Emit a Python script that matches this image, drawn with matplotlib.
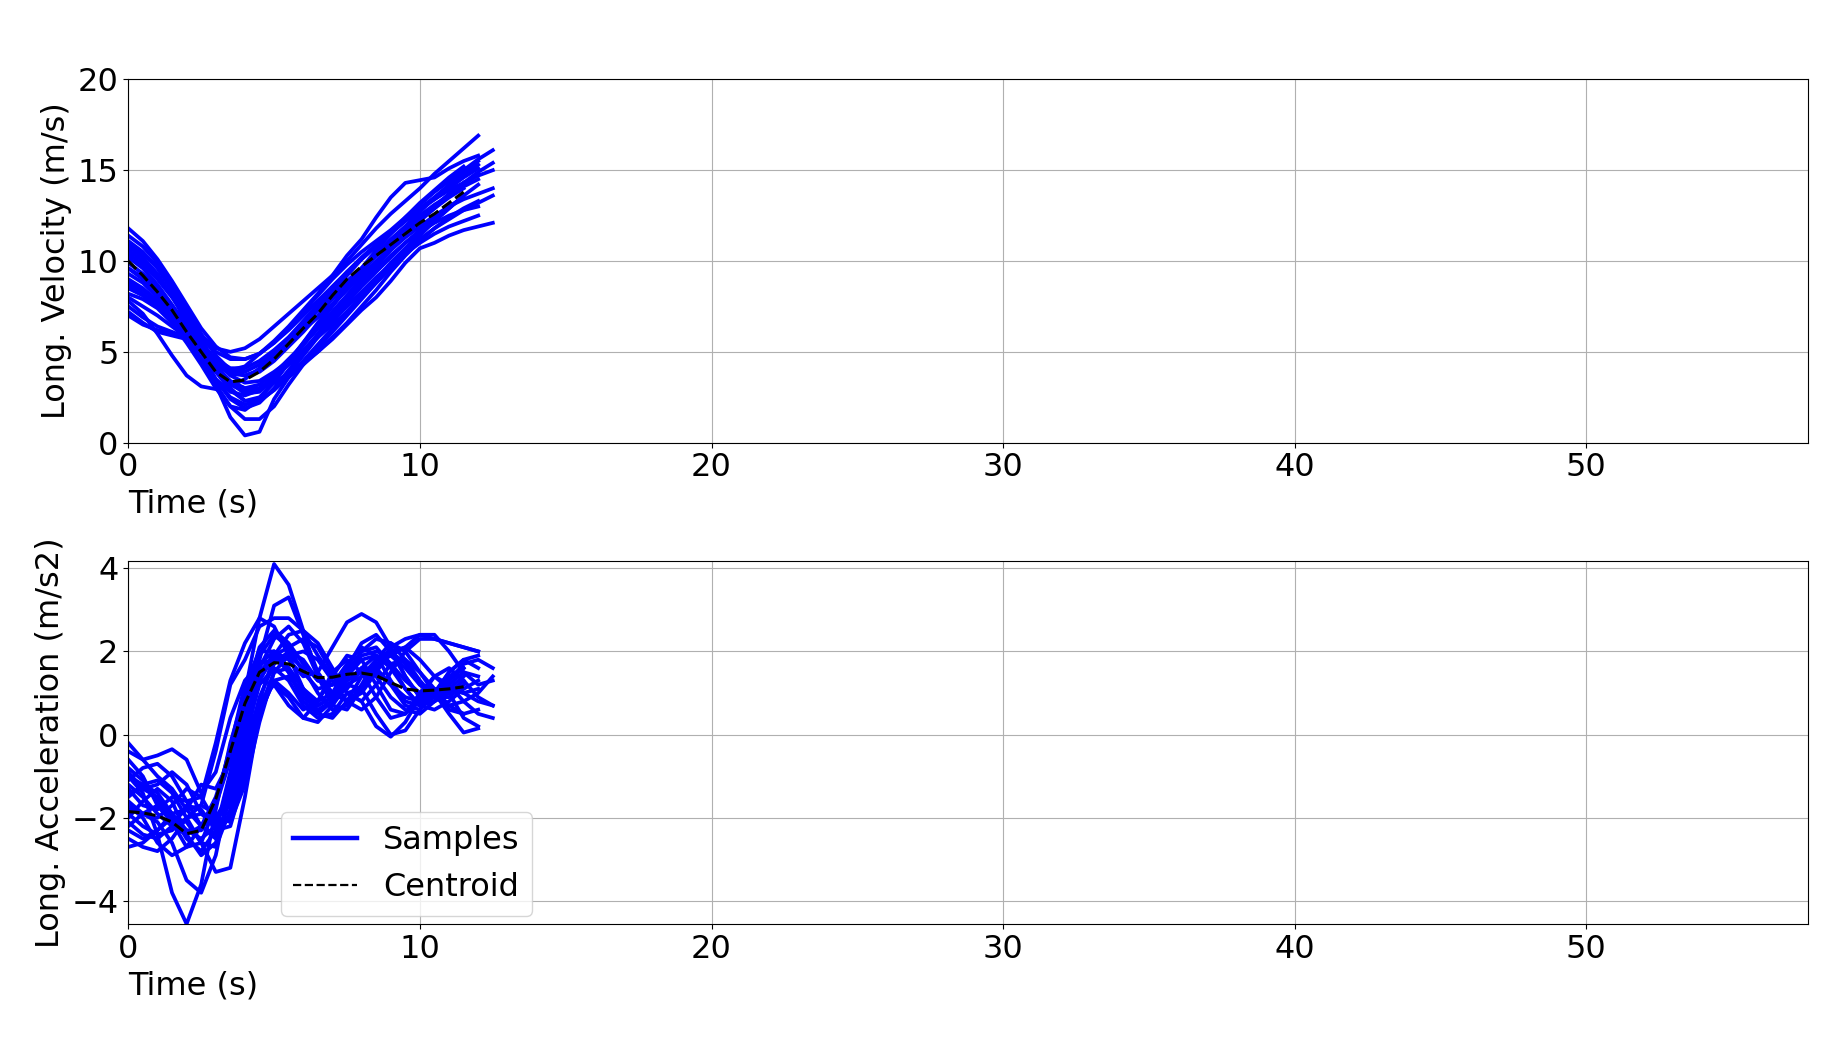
"""Longitudinal velocity / acceleration samples with their centroid."""
import matplotlib

matplotlib.use("Agg")
import matplotlib.pyplot as plt
from matplotlib.lines import Line2D

plt.rcParams.update({
    "font.size": 23,
    "axes.grid": True,
})

# time grid of the read-off points (s)
TIME = [0.0, 0.5, 1.0, 1.5, 2.0, 2.5, 3.0, 3.5, 4.0, 4.5, 5.0, 5.5, 6.0,
        6.5, 7.0, 7.5, 8.0, 8.5, 9.0, 9.5, 10.0, 10.5, 11.0, 11.5, 12.0, 12.5]

# ---- longitudinal velocity (m/s) ----
VEL_CENTROID = [10.0, 9.2, 8.3, 7.3, 6.1, 5.0, 3.9, 3.35, 3.45, 3.9, 4.6, 5.45,
                6.3, 7.1, 8.1, 9.0, 9.7, 10.3, 10.9, 11.5, 12.1, 12.6, 13.2, 13.8]

VEL_01 = [11.8, 11.1, 10.1, 8.9, 7.6, 6.3, 5.3, 4.7, 4.6, 4.9, 5.5, 6.2, 7.0,
          7.8, 8.6, 9.4, 10.1, 10.8, 11.5, 12.2, 12.9, 13.5, 14.1, 14.7, 15.3]
VEL_02 = [9.0, 8.5, 7.8, 6.9, 5.8, 4.6, 3.2, 1.4, 0.4, 0.6, 2.4, 3.6, 4.5,
          5.4, 6.3, 7.2, 8.1, 9.0, 9.9, 10.7, 11.5, 12.2, 12.9, 13.6]
VEL_03 = [8.5, 8.1, 7.5, 6.7, 5.7, 4.5, 3.2, 2.0, 1.3, 1.3, 2.0, 3.2, 4.3,
          5.2, 6.1, 7.0, 7.9, 8.8, 9.7, 10.6, 11.4, 12.2, 12.9, 13.6, 14.2]
VEL_04 = [7.8, 7.1, 6.0, 4.8, 3.7, 3.1, 2.95, 3.1, 3.5, 4.1, 4.8, 5.5, 6.2,
          6.9, 7.6, 8.4, 9.2, 10.0, 10.8, 11.6, 12.3, 13.0, 13.7, 14.3, 14.9, 15.4]
VEL_05 = [10.6, 10.0, 9.2, 8.1, 6.9, 5.9, 5.2, 5.0, 5.2, 5.7, 6.4, 7.1, 7.8,
          8.5, 9.2, 10.0, 10.9, 11.8, 12.6, 13.3, 14.0, 14.8, 15.5, 16.2, 16.9]
VEL_06 = [9.6, 9.0, 8.2, 7.2, 6.1, 5.0, 4.3, 4.0, 4.2, 4.9, 5.6, 6.4, 7.3,
          8.2, 9.2, 10.3, 11.2, 12.4, 13.5, 14.3, 14.45, 14.6, 15.1, 15.5, 15.8]
VEL_07 = [7.2, 6.6, 6.1, 5.9, 5.7, 5.1, 4.2, 3.4, 3.0, 3.0, 3.3, 3.8, 4.4,
          5.0, 5.7, 6.5, 7.3, 8.0, 8.9, 9.9, 10.7, 11.0, 11.4, 11.7, 11.9, 12.1]
VEL_08 = [10.4, 9.8, 9.0, 8.0, 6.8, 5.6, 4.5, 3.9, 3.9, 4.3, 5.0, 5.8, 6.7,
          7.6, 8.5, 9.4, 10.2, 10.9, 11.6, 12.2, 12.8, 13.4, 14.0, 14.6, 15.1]
VEL_09 = [7.5, 6.9, 6.4, 6.1, 5.8, 5.0, 3.9, 2.9, 2.3, 2.3, 2.9, 3.8, 4.8,
          5.8, 6.8, 7.7, 8.6, 9.4, 10.2, 11.0, 11.7, 12.4, 13.0, 13.5]
VEL_10 = [11.1, 10.5, 9.6, 8.4, 7.0, 5.6, 4.3, 3.3, 2.7, 2.8, 3.5, 4.5, 5.5,
          6.5, 7.5, 8.5, 9.4, 10.3, 11.1, 11.9, 12.7, 13.5, 14.2, 14.9, 15.5]
VEL_11 = [8.8, 8.4, 7.8, 7.0, 6.0, 5.0, 4.0, 3.2, 2.8, 3.0, 3.6, 4.3, 5.1,
          5.9, 6.7, 7.5, 8.3, 9.1, 9.8, 10.5, 11.2, 11.8, 12.3, 12.8, 13.2, 13.6]
VEL_12 = [10.9, 10.4, 9.7, 8.7, 7.4, 6.0, 4.8, 4.0, 3.7, 3.9, 4.5, 5.3, 6.1,
          7.0, 7.9, 8.8, 9.6, 10.4, 11.2, 11.9, 12.5, 13.1, 13.6, 14.1, 14.5]
VEL_13 = [8.2, 7.9, 7.4, 6.6, 5.5, 4.3, 3.0, 2.0, 1.8, 2.4, 3.4, 4.4, 5.4,
          6.3, 7.2, 8.1, 9.0, 9.9, 10.8, 11.6, 12.3, 12.9, 13.5, 14.0]
VEL_14 = [9.9, 9.3, 8.5, 7.5, 6.4, 5.4, 4.6, 4.1, 4.1, 4.5, 5.1, 5.8, 6.6,
          7.4, 8.3, 9.2, 10.1, 10.9, 11.6, 12.3, 12.9, 13.4, 13.9, 14.3, 14.7, 15.0]
VEL_15 = [7.0, 6.5, 6.2, 6.0, 5.9, 5.4, 4.5, 3.7, 3.3, 3.4, 3.9, 4.5, 5.1,
          5.8, 6.5, 7.2, 8.0, 8.8, 9.6, 10.4, 11.0, 11.5, 11.9, 12.2, 12.5]
VEL_16 = [11.4, 10.8, 9.9, 8.7, 7.2, 5.6, 4.1, 3.0, 2.3, 2.5, 3.3, 4.4, 5.5,
          6.6, 7.6, 8.6, 9.6, 10.6, 11.5, 12.4, 13.2, 13.9, 14.6, 15.2]
VEL_17 = [9.3, 8.8, 8.0, 7.0, 5.8, 4.6, 3.5, 2.8, 2.6, 2.9, 3.6, 4.5, 5.4,
          6.3, 7.2, 8.1, 9.0, 9.8, 10.6, 11.3, 11.9, 12.5, 13.0, 13.4, 13.7, 14.0]
VEL_18 = [10.2, 9.6, 8.7, 7.6, 6.4, 5.2, 4.1, 3.3, 3.0, 3.2, 3.8, 4.6, 5.4,
          6.3, 7.1, 7.9, 8.7, 9.5, 10.3, 11.0, 11.6, 12.1, 12.5, 12.8, 13.0]
VEL_19 = [8.0, 7.5, 7.0, 6.4, 5.8, 5.1, 4.3, 3.8, 3.7, 4.0, 4.7, 5.5, 6.4,
          7.3, 8.1, 8.9, 9.6, 10.3, 11.0, 11.7, 12.4, 13.0, 13.6, 14.2, 14.8]
VEL_20 = [10.8, 10.2, 9.3, 8.1, 6.6, 5.0, 3.5, 2.4, 1.9, 2.2, 3.0, 4.0, 5.0,
          6.0, 7.0, 7.9, 8.8, 9.7, 10.6, 11.4, 12.2, 12.9, 13.6, 14.3]
VEL_21 = [9.6, 9.1, 8.4, 7.5, 6.6, 5.7, 5.0, 4.6, 4.6, 4.9, 5.5, 6.3, 7.2,
          8.1, 9.0, 9.8, 10.5, 11.1, 11.7, 12.4, 13.1, 13.8, 14.4, 15.0, 15.6, 16.1]
VEL_22 = [8.7, 8.2, 7.6, 6.8, 5.8, 4.6, 3.4, 2.5, 2.1, 2.3, 2.9, 3.6, 4.3,
          5.0, 5.8, 6.6, 7.5, 8.4, 9.4, 10.3, 11.1, 11.8, 12.4, 12.9, 13.3]

VEL_SAMPLES = [VEL_01, VEL_02, VEL_03, VEL_04, VEL_05, VEL_06, VEL_07, VEL_08,
               VEL_09, VEL_10, VEL_11, VEL_12, VEL_13, VEL_14, VEL_15, VEL_16,
               VEL_17, VEL_18, VEL_19, VEL_20, VEL_21, VEL_22]

# ---- longitudinal acceleration (m/s2) ----
ACC_CENTROID = [-1.85, -1.88, -1.95, -2.1, -2.38, -2.3, -1.55, -0.4, 0.75, 1.5, 1.73, 1.7,
                1.52, 1.37, 1.38, 1.45, 1.48, 1.42, 1.25, 1.1, 1.05, 1.07, 1.1, 1.15]

ACC_01 = [-1.2, -1.5, -1.9, -2.2, -2.4, -2.2, -1.5, -0.4, 1.0, 2.8, 4.1, 3.6, 2.5,
          1.4, 0.9, 1.1, 1.6, 1.9, 1.7, 1.3, 1.0, 1.0, 1.3, 1.6]
ACC_02 = [-0.8, -1.1, -1.6, -2.0, -2.3, -2.5, -2.2, -1.3, 0.2, 1.8, 3.1, 3.3, 2.4,
          1.5, 1.0, 0.8, 1.0, 1.5, 2.0, 2.1, 1.8, 1.4, 1.1, 1.0, 1.1]
ACC_03 = [-1.0, -1.4, -2.4, -3.8, -4.55, -3.6, -1.8, -0.2, 1.0, 1.7, 2.0, 1.6, 1.1,
          0.8, 1.0, 1.6, 2.2, 2.4, 2.0, 1.4, 0.9, 0.8, 1.0, 1.3]
ACC_04 = [-1.8, -1.9, -2.1, -2.6, -3.5, -3.8, -2.9, -1.2, 0.6, 1.9, 2.4, 2.1, 1.5,
          1.1, 1.2, 1.7, 2.1, 1.9, 1.3, 0.8, 0.7, 1.0, 1.5, 1.8, 1.9]
ACC_05 = [-2.3, -2.5, -2.3, -2.0, -2.1, -2.6, -3.3, -3.2, -1.5, 0.5, 1.3, 1.0, 0.6,
          0.8, 1.4, 1.9, 1.8, 1.2, 0.6, 0.5, 0.9, 1.4, 1.6, 1.3, 0.9, 0.7]
ACC_06 = [-0.4, -0.6, -1.0, -1.3, -1.8, -1.7, -0.4, 1.2, 1.8, 2.6, 2.8, 2.8, 2.5,
          1.9, 1.4, 1.2, 1.4, 1.8, 2.0, 1.7, 1.2, 0.9, 0.9, 1.2]
ACC_07 = [-0.2, -0.6, -0.5, -0.35, -0.6, -1.4, -0.9, 0.4, 1.3, 1.7, 1.8, 1.9, 2.0,
          1.8, 1.3, 0.8, 0.6, 0.9, 1.5, 2.0, 2.3, 2.3, 2.2, 2.1, 2.0]
ACC_08 = [-2.7, -2.6, -2.3, -1.9, -1.8, -2.2, -2.4, -1.6, -0.2, 0.8, 1.2, 0.9, 0.4,
          0.3, 0.7, 1.2, 1.1, 0.5, 0.0, 0.1, 0.6, 1.1, 1.0, 0.4, 0.2]
ACC_09 = [-1.5, -1.2, -1.1, -1.4, -2.0, -2.6, -2.7, -1.8, -0.2, 1.3, 2.0, 1.8, 1.4,
          1.5, 2.1, 2.7, 2.9, 2.7, 2.1, 1.4, 0.9, 0.9, 1.3, 1.7, 1.8, 1.6]
ACC_10 = [-1.9, -2.2, -2.4, -2.3, -2.0, -1.9, -2.0, -1.4, 0.0, 1.2, 1.6, 1.3, 0.7,
          0.4, 0.5, 1.0, 0.8, 0.2, -0.05, 0.3, 0.9, 1.0, 0.5, 0.05, 0.15]
ACC_11 = [-1.3, -1.7, -1.8, -1.5, -1.6, -2.2, -2.5, -1.9, -0.5, 0.9, 1.7, 2.0, 1.8,
          1.3, 1.2, 1.5, 1.9, 2.0, 1.9, 2.1, 2.4, 2.4, 2.0, 1.5, 1.2, 1.3]
ACC_12 = [-0.6, -1.0, -1.7, -2.1, -1.8, -1.2, -1.3, -0.6, 0.7, 1.6, 2.3, 2.6, 2.2,
          1.4, 0.7, 0.6, 1.1, 1.7, 1.9, 1.6, 1.2, 1.0, 1.1, 1.4]
ACC_13 = [-2.0, -1.6, -1.3, -1.6, -2.4, -2.9, -2.6, -1.5, 0.1, 1.3, 1.9, 1.5, 0.8,
          0.5, 0.8, 1.3, 1.6, 1.4, 0.9, 0.6, 0.5, 0.8, 1.1, 1.0, 0.8, 0.7]
ACC_14 = [-1.6, -1.9, -2.0, -1.7, -1.3, -1.5, -2.1, -2.0, -0.7, 0.8, 1.9, 2.4, 2.5,
          2.2, 1.6, 1.0, 0.8, 1.2, 1.7, 1.8, 1.5, 1.1, 0.7, 0.5, 0.6]
ACC_15 = [-2.5, -2.7, -2.8, -2.5, -2.0, -1.7, -1.9, -1.9, -0.9, 0.6, 1.5, 1.6, 1.1,
          0.5, 0.4, 0.8, 1.4, 1.6, 1.2, 0.7, 0.6, 1.0, 1.5, 1.8, 1.6]
ACC_16 = [-1.0, -1.2, -1.4, -1.9, -2.5, -2.8, -2.3, -0.9, 0.9, 2.1, 2.5, 2.2, 1.7,
          1.3, 1.2, 1.3, 1.5, 1.5, 1.2, 0.9, 0.8, 1.0, 1.4, 1.6]
ACC_17 = [-1.4, -1.3, -1.5, -1.9, -2.3, -2.3, -1.6, -0.3, 1.2, 2.0, 2.0, 1.5, 0.9,
          0.6, 0.8, 1.4, 2.0, 2.3, 2.2, 1.8, 1.3, 0.9, 0.7, 0.8, 1.0, 1.4]
ACC_18 = [-2.1, -2.4, -2.5, -2.2, -1.7, -1.8, -2.3, -2.2, -1.0, 0.5, 1.3, 1.4, 1.0,
          0.7, 0.9, 1.4, 1.8, 1.9, 1.6, 1.1, 0.7, 0.6, 0.8, 1.1, 1.3]
ACC_19 = [-1.1, -0.8, -0.7, -1.0, -1.6, -1.5, -0.2, 1.3, 2.2, 2.8, 2.6, 1.9, 1.1,
          0.7, 0.9, 1.5, 2.0, 2.1, 1.7, 1.1, 0.7, 0.8, 1.2, 1.5, 1.4]
ACC_20 = [-1.7, -2.0, -2.6, -2.9, -2.7, -2.2, -2.0, -2.1, -1.2, 0.3, 1.5, 1.9, 1.6,
          1.0, 0.6, 0.7, 1.2, 1.8, 2.2, 2.0, 1.5, 1.0, 0.6, 0.5]
ACC_21 = [-0.9, -1.3, -1.2, -0.9, -1.2, -1.9, -2.2, -1.2, 0.4, 1.5, 1.9, 2.1, 2.3,
          2.1, 1.5, 1.0, 1.1, 1.6, 2.1, 2.3, 2.4, 2.3, 2.2, 2.1, 2.0]
ACC_22 = [-2.2, -1.9, -1.7, -2.1, -2.7, -2.6, -1.7, -0.6, 0.6, 1.3, 1.2, 0.7, 0.4,
          0.8, 1.5, 1.8, 1.5, 0.9, 0.4, 0.5, 1.0, 1.4, 1.2, 0.8, 0.5, 0.4]

ACC_SAMPLES = [ACC_01, ACC_02, ACC_03, ACC_04, ACC_05, ACC_06, ACC_07, ACC_08,
               ACC_09, ACC_10, ACC_11, ACC_12, ACC_13, ACC_14, ACC_15, ACC_16,
               ACC_17, ACC_18, ACC_19, ACC_20, ACC_21, ACC_22]

X_MAX = 57.6


def draw(ax, samples, centroid, ylabel, ylim):
    for s in samples:
        ax.plot(TIME[:len(s)], s, color="blue", linewidth=2.7)
    ax.plot(TIME[:len(centroid)], centroid, color="black", linestyle="--", linewidth=2.2)
    ax.set_xlim(0, X_MAX)
    ax.set_ylim(*ylim)
    ax.set_ylabel(ylabel)
    ax.set_xlabel("Time (s)", loc="left")


fig = plt.figure(figsize=(18.43, 10.37), dpi=100)
ax1 = fig.add_axes([0.0696, 0.5731, 0.9114, 0.3504])
ax2 = fig.add_axes([0.0696, 0.1090, 0.9114, 0.3503])

draw(ax1, VEL_SAMPLES, VEL_CENTROID, "Long. Velocity (m/s)", (0, 20))
ax1.set_yticks([0, 5, 10, 15, 20])
draw(ax2, ACC_SAMPLES, ACC_CENTROID, "Long. Acceleration (m/s2)", (-4.55, 4.18))
ax2.set_yticks([-4, -2, 0, 2, 4])

handles = [Line2D([0], [0], color="blue", linewidth=3.2),
           Line2D([0], [0], color="black", linestyle="--", linewidth=1.6)]
ax2.legend(handles, ["Samples", "Centroid"], loc="lower left",
           bbox_to_anchor=(0.0907, 0.022), borderaxespad=0)

fig.savefig("out.png", dpi=100)
